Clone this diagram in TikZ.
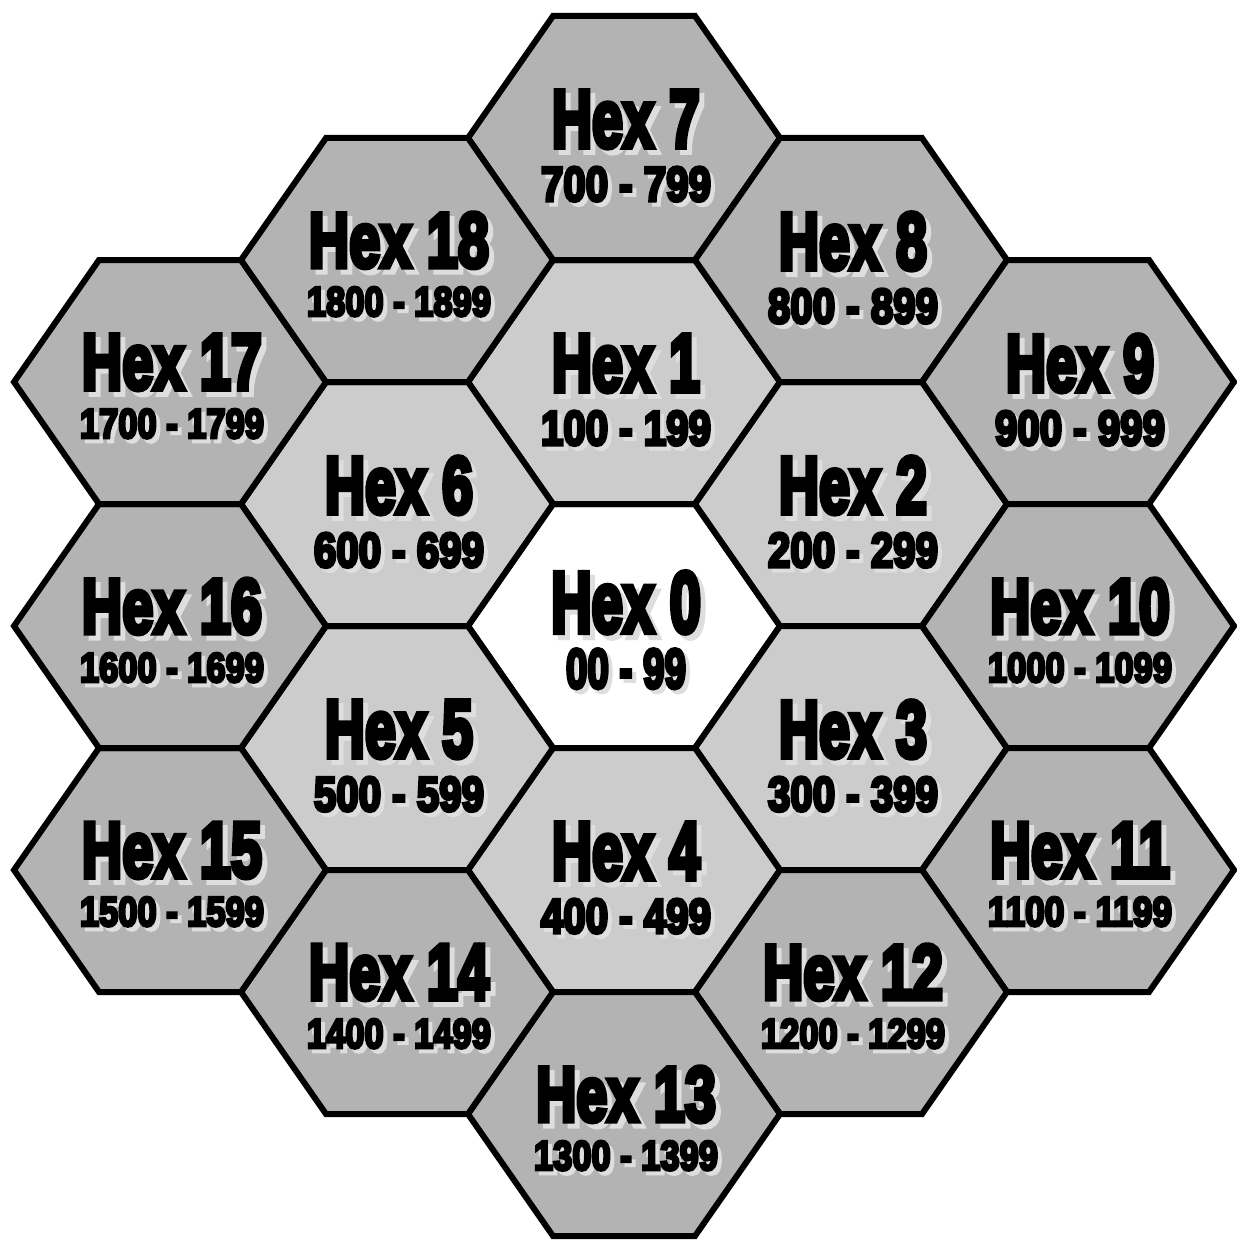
\documentclass[tikz,border=0pt]{standalone}
\usepackage{fontspec}
\newfontfamily\hexfont[BoldFeatures={FakeBold=7}]{Liberation Sans}
\definecolor{ringone}{RGB}{204,204,204}
\definecolor{ringtwo}{RGB}{179,179,179}
\definecolor{shadowgray}{RGB}{222,222,222}
\tikzset{
  hexcell/.style={draw=black, line width=6pt, line join=miter},
  ringzero/.style={fill=white},
  ringfirst/.style={fill=ringone},
  ringsecond/.style={fill=ringtwo},
  lab/.style={inner sep=0pt, anchor=base},
}
% hexagon outline: #1 name, #2 x, #3 y, #4 style
\newcommand\hexat[4]{%
  \draw[hexcell,#4] (#2-156,#3) -- (#2-71,#3-122) -- (#2+71,#3-122)
    -- (#2+156,#3) -- (#2+71,#3+122) -- (#2-71,#3+122) -- cycle;
  \coordinate (#1) at (#2,#3);
}
\newcommand\hexword[3]{\resizebox{#1}{#2}{\hexfont\bfseries #3}}
% text with drop shadow: #1 offset, #2 width, #3 height, #4 text
\newcommand\shadowed[4]{%
  \rlap{\hspace*{#1}\raisebox{-#1}{\color{shadowgray}\hexword{#2}{#3}{#4}}}%
  \hexword{#2}{#3}{#4}}
% texts: #1 name, #2 x, #3 y, #4 label, #5 range, #6 LW, #7 LH, #8 NW, #9 NH
\newcommand\celltext[9]{%
  \node[lab] (#1-label) at (#2+2,#3+\dl) {\shadowed{5pt}{#6}{#7}{#4}};
  \node[lab] (#1-range) at (#2+2,#3+\dn) {\shadowed{4pt}{#8}{#9}{#5}};
}
\newcommand\zerocell[5]{\def\dl{6}\def\dn{62}\celltext{#1}{#2}{#3}{#4}{#5}{150pt}{60pt}{120pt}{39pt}}
\newcommand\onecell[5]{\def\dl{9}\def\dn{63}\celltext{#1}{#2}{#3}{#4}{#5}{148pt}{56pt}{170pt}{34pt}}
\newcommand\twocell[5]{\def\dl{7}\def\dn{56}\celltext{#1}{#2}{#3}{#4}{#5}{180pt}{54pt}{184pt}{29pt}}
\begin{document}
\begin{tikzpicture}[x=1pt,y=-1pt]
  \fill[white] (0,0) rectangle (1236,1241);
  \useasboundingbox (0,0) rectangle (1236,1241);
  % centre
  \hexat{h0}{624}{626}{ringzero}
  % first ring
  \hexat{h1}{624}{382}{ringfirst}
  \hexat{h2}{851}{504}{ringfirst}
  \hexat{h3}{851}{748}{ringfirst}
  \hexat{h4}{624}{870}{ringfirst}
  \hexat{h5}{397}{748}{ringfirst}
  \hexat{h6}{397}{504}{ringfirst}
  % second ring
  \hexat{h7}{624}{138}{ringsecond}
  \hexat{h8}{851}{260}{ringsecond}
  \hexat{h9}{1078}{382}{ringsecond}
  \hexat{h10}{1078}{626}{ringsecond}
  \hexat{h11}{1078}{870}{ringsecond}
  \hexat{h12}{851}{992}{ringsecond}
  \hexat{h13}{624}{1114}{ringsecond}
  \hexat{h14}{397}{992}{ringsecond}
  \hexat{h15}{170}{870}{ringsecond}
  \hexat{h16}{170}{626}{ringsecond}
  \hexat{h17}{170}{382}{ringsecond}
  \hexat{h18}{397}{260}{ringsecond}
  % texts
  \zerocell{t0}{624}{626}{Hex 0}{00 - 99}
  \onecell{t1}{624}{382}{Hex 1}{100 - 199}
  \onecell{t2}{851}{504}{Hex 2}{200 - 299}
  \onecell{t3}{851}{748}{Hex 3}{300 - 399}
  \onecell{t4}{624}{870}{Hex 4}{400 - 499}
  \onecell{t5}{397}{748}{Hex 5}{500 - 599}
  \onecell{t6}{397}{504}{Hex 6}{600 - 699}
  \onecell{t7}{624}{138}{Hex 7}{700 - 799}
  \onecell{t8}{851}{260}{Hex 8}{800 - 899}
  \onecell{t9}{1078}{382}{Hex 9}{900 - 999}
  \twocell{t10}{1078}{626}{Hex 10}{1000 - 1099}
  \twocell{t11}{1078}{870}{Hex 11}{1100 - 1199}
  \twocell{t12}{851}{992}{Hex 12}{1200 - 1299}
  \twocell{t13}{624}{1114}{Hex 13}{1300 - 1399}
  \twocell{t14}{397}{992}{Hex 14}{1400 - 1499}
  \twocell{t15}{170}{870}{Hex 15}{1500 - 1599}
  \twocell{t16}{170}{626}{Hex 16}{1600 - 1699}
  \twocell{t17}{170}{382}{Hex 17}{1700 - 1799}
  \twocell{t18}{397}{260}{Hex 18}{1800 - 1899}
\end{tikzpicture}
\end{document}
